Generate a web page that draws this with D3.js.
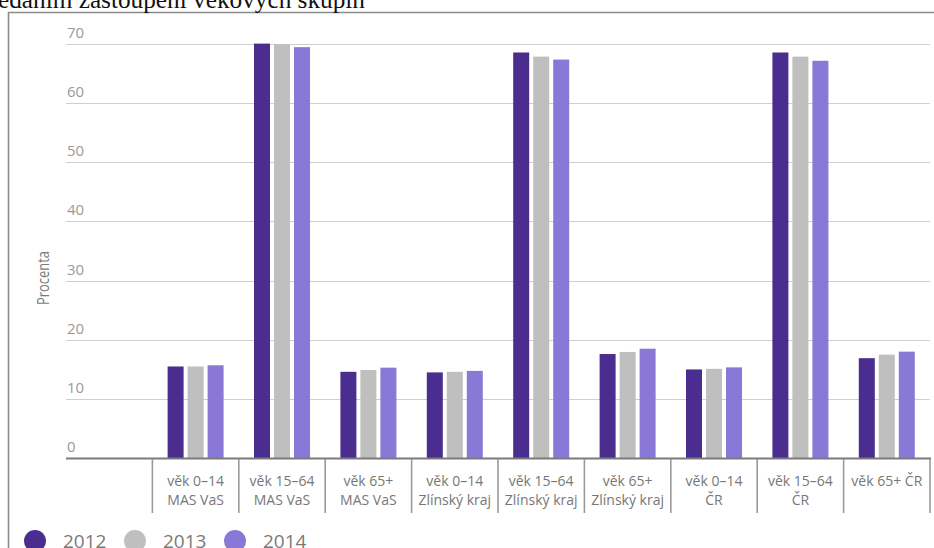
<!DOCTYPE html>
<html>
<head>
<meta charset="utf-8">
<script src="https://cdn.jsdelivr.net/npm/d3@7"></script>
<style>
html,body{margin:0;padding:0;background:#fff;overflow:hidden;}
svg{display:block;}
</style>
</head>
<body>
<svg id="chart" width="934" height="548"></svg>
<script>
const categories = [
  ["", ""],
  ["věk 0–14", "MAS VaS"],
  ["věk 15–64", "MAS VaS"],
  ["věk 65+", "MAS VaS"],
  ["věk 0–14", "Zlínský kraj"],
  ["věk 15–64", "Zlínský kraj"],
  ["věk 65+", "Zlínský kraj"],
  ["věk 0–14", "ČR"],
  ["věk 15–64", "ČR"],
  ["věk 65+ ČR", ""]
];
const years = ["2012", "2013", "2014"];
const values2012 = [null, 15.5, 70.0, 14.6, 14.5, 68.5, 17.6, 15.0, 68.5, 16.9];
const values2013 = [null, 15.5, 69.9, 14.9, 14.6, 67.8, 17.95, 15.1, 67.8, 17.5];
const values2014 = [null, 15.7, 69.4, 15.3, 14.75, 67.3, 18.5, 15.35, 67.1, 18.0];
const yTicks = [0, 10, 20, 30, 40, 50, 60, 70];
const colors = ["#4a2d8f", "#bfbfbf", "#8a78d6"];
const titleText = "edaním zastoupení věkových skupin";
const yLabel = "Procenta";

const series = [values2012, values2013, values2014];
const svg = d3.select("#chart");
const font = "'Open Sans', sans-serif";

// frame
svg.append("path")
  .attr("d", "M8.5,560 L8.5,12.5 L940,12.5")
  .attr("fill", "none").attr("stroke", "#8a8a8a").attr("stroke-width", 1.6);

// title (clipped at top in the reference)
svg.append("text")
  .attr("x", -2).attr("y", 8)
  .attr("font-family", "'Liberation Serif', serif")
  .attr("font-size", 25).attr("fill", "#111")
  .attr("textLength", 367).attr("lengthAdjust", "spacingAndGlyphs")
  .text(titleText);

const catKeys = categories.map((c, i) => String(i));
const x = d3.scaleBand().domain(catKeys).range([66, 930]).paddingInner(0).paddingOuter(0);
const xSub = d3.scaleBand().domain(years).range([0, 56]).paddingInner(0.2).paddingOuter(0);
const y = d3.scaleLinear().domain([0, 70]).range([458.3, 43.6]);

// gridlines
svg.append("g").selectAll("line").data(yTicks.filter(t => t > 0)).join("line")
  .attr("x1", 66).attr("x2", 930)
  .attr("y1", d => Math.round(y(d)) + 0.5).attr("y2", d => Math.round(y(d)) + 0.5)
  .attr("stroke", "#cfcfcf").attr("stroke-width", 1.2);

// y tick labels
svg.append("g").selectAll("text").data(yTicks).join("text")
  .attr("x", 67).attr("y", d => y(d) - 6)
  .attr("font-family", font).attr("font-size", 15).attr("fill", "#9a9a9a")
  .text(d => d);

// y label
svg.append("text")
  .attr("transform", "translate(49,278) rotate(-90)")
  .attr("text-anchor", "middle")
  .attr("font-family", font).attr("font-size", 17).attr("fill", "#7a7a7a")
  .attr("textLength", 54).attr("lengthAdjust", "spacingAndGlyphs")
  .text(yLabel);

// bars
const groupOffset = (x.bandwidth() - 56) / 2;
const groups = svg.append("g").selectAll("g").data(catKeys).join("g")
  .attr("transform", d => `translate(${x(d) + groupOffset},0)`);
groups.selectAll("rect")
  .data((d, i) => years.map((yr, j) => ({yr, v: series[j][i], c: colors[j]})).filter(o => o.v != null))
  .join("rect")
  .attr("x", d => xSub(d.yr))
  .attr("width", xSub.bandwidth())
  .attr("y", d => y(d.v))
  .attr("height", d => y(0) - y(d.v))
  .attr("fill", d => d.c);

// x axis baseline
svg.append("line")
  .attr("x1", 66).attr("x2", 931).attr("y1", 458.5).attr("y2", 458.5)
  .attr("stroke", "#7a7a7a").attr("stroke-width", 2);

// separators
const seps = catKeys.slice(1).map(k => x(k)).concat([x(catKeys[catKeys.length - 1]) + x.bandwidth()]);
svg.append("g").selectAll("line").data(seps).join("line")
  .attr("x1", d => d).attr("x2", d => d)
  .attr("y1", 459).attr("y2", 513)
  .attr("stroke", "#9a9a9a").attr("stroke-width", 1.6);

// category labels
const lab = svg.append("g").selectAll("text").data(categories.map((c, i) => ({c, k: String(i)}))).join("text")
  .attr("text-anchor", "middle")
  .attr("font-family", font).attr("font-size", 14).attr("fill", "#777");
lab.append("tspan").attr("x", d => x(d.k) + x.bandwidth() / 2).attr("y", 486).text(d => d.c[0]);
lab.append("tspan").attr("x", d => x(d.k) + x.bandwidth() / 2).attr("y", 505).text(d => d.c[1]);

// legend
const legendX = [35, 135, 235];
const leg = svg.append("g").selectAll("g").data(years).join("g")
  .attr("transform", (d, i) => `translate(${legendX[i]},541)`);
leg.append("circle").attr("r", 11).attr("fill", (d, i) => colors[i]);
leg.append("text").attr("x", 28).attr("y", 6.5)
  .attr("font-family", font).attr("font-size", 19).attr("fill", "#7a7a7a")
  .text(d => d);
</script>
</body>
</html>
